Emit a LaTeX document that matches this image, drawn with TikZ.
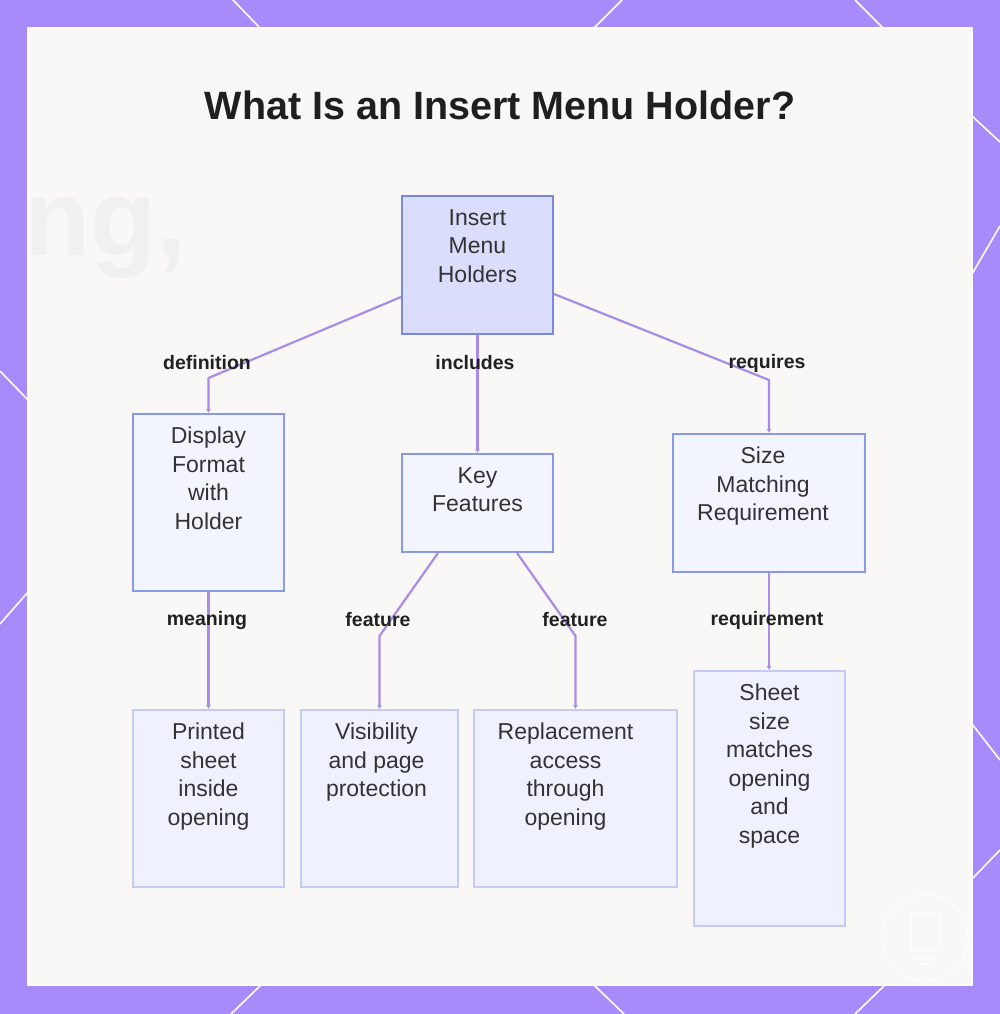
\documentclass[tikz,border=0pt]{standalone}
\usepackage{fontspec}
\setmainfont{Liberation Sans}
\usetikzlibrary{arrows.meta,calc}
\definecolor{frame}{RGB}{167,139,250}
\definecolor{panel}{RGB}{249,248,246}
\definecolor{rootfill}{RGB}{218,221,251}
\definecolor{rootdraw}{RGB}{122,136,218}
\definecolor{midfill}{RGB}{243,245,254}
\definecolor{middraw}{RGB}{136,153,232}
\definecolor{leaffill}{RGB}{239,242,254}
\definecolor{leafdraw}{RGB}{196,204,246}
\definecolor{edgec}{RGB}{168,140,232}
\definecolor{txt}{RGB}{51,51,51}
\definecolor{ghost}{RGB}{240,240,239}
\tikzset{
  boxbase/.style={rectangle, inner sep=0pt, line width=2pt},
  rootbox/.style={boxbase, fill=rootfill, draw=rootdraw},
  midbox/.style={boxbase, fill=midfill, draw=middraw},
  leafbox/.style={boxbase, fill=leaffill, draw=leafdraw},
  boxtext/.style={anchor=north, inner sep=0pt, align=center, text=txt,
    font=\fontsize{23}{28.5}\selectfont},
  edgelbl/.style={inner sep=0pt, text=black!87, font=\bfseries\fontsize{19.5}{23}\selectfont},
  edge/.style={draw=edgec, line width=2.2pt, line join=round,
    -{Latex[length=4pt,width=5pt]}},
  deco/.style={draw=white, line width=1.6pt}
}
\begin{document}
\begin{tikzpicture}[x=1pt,y=-1pt]
\useasboundingbox (0,0) rectangle (1000,1014);
% frame
\fill[frame] (0,0) rectangle (1000,1014);
\draw[deco] (233,0) -- (260,28);
\draw[deco] (622,0) -- (594,28);
\draw[deco] (855,0) -- (883,28);
\draw[deco] (231,1014) -- (261,985);
\draw[deco] (594,985) -- (624,1014);
\draw[deco] (885,985) -- (855,1014);
\draw[deco] (0,371) -- (28,400);
\draw[deco] (0,624) -- (28,592);
\draw[deco] (972,116) -- (1000,142);
\draw[deco] (972,274) -- (1000,226);
\draw[deco] (972,724) -- (1000,760);
\draw[deco] (972,879) -- (1000,850);
% panel
\fill[panel, draw=white, line width=2pt] (28,28) rectangle (972,985);
\begin{scope}
\clip (29,29) rectangle (971,984);
\node[anchor=base west, inner sep=0pt, text=ghost, font=\bfseries\fontsize{108}{108}\selectfont] (ghosttext) at (24,255) {ng,};
\end{scope}
\draw[white, line width=1pt, opacity=0.9] (925,938) circle (43);
\draw[white, line width=1pt, opacity=0.9] (911,912) rectangle (939,950);
\draw[white, line width=1pt, opacity=0.9] (913,959) -- (937,959);
\draw[white, line width=1pt, opacity=0.9] (918,964) -- (932,964);
% title
\node[inner sep=0pt, text=black!88, font=\bfseries\fontsize{39.5}{45}\selectfont] (title) at (500,105) {What Is an Insert Menu Holder?};
% boxes
\node[rootbox, minimum width=151pt, minimum height=138pt, anchor=north] (root) at (477.5,195) {};
\node[midbox, minimum width=151pt, minimum height=177pt, anchor=north] (disp) at (208.5,413) {};
\node[midbox, minimum width=151pt, minimum height=98pt, anchor=north] (key) at (477.5,453) {};
\node[midbox, minimum width=192pt, minimum height=138pt, anchor=north] (size) at (769,433) {};
\node[leafbox, minimum width=151pt, minimum height=177pt, anchor=north] (printed) at (208.5,709) {};
\node[leafbox, minimum width=157pt, minimum height=177pt, anchor=north] (vis) at (379.5,709) {};
\node[leafbox, minimum width=203pt, minimum height=177pt, anchor=north] (repl) at (575.5,709) {};
\node[leafbox, minimum width=151pt, minimum height=255pt, anchor=north] (sheet) at (769.5,670) {};
% box texts
\node[boxtext] (rootT) at ($(root.north)+(0,14)$) {Insert\\Menu\\Holders};
\node[boxtext] (dispT) at ($(disp.north)+(0,14)$) {Display\\Format\\with\\Holder};
\node[boxtext] (keyT) at ($(key.north)+(0,14)$) {Key\\Features};
\node[boxtext] (sizeT) at ($(size.north)+(-6,14)$) {Size\\Matching\\Requirement};
\node[boxtext] (printedT) at ($(printed.north)+(0,14)$) {Printed\\sheet\\inside\\opening};
\node[boxtext] (visT) at ($(vis.north)+(-3,14)$) {Visibility\\and page\\protection};
\node[boxtext] (replT) at ($(repl.north)+(-10,14)$) {Replacement\\access\\through\\opening};
\node[boxtext] (sheetT) at ($(sheet.north)+(0,14)$) {Sheet\\size\\matches\\opening\\and\\space};
% edges
\draw[edge] ([yshift=-32pt]root.west) -- (208.5,378) -- (disp.north);
\draw[edge] (root.south) -- (key.north);
\draw[edge] ([yshift=-29pt]root.east) -- (769,380) -- (size.north);
\draw[edge] (disp.south) -- (printed.north);
\draw[edge] ([xshift=-39.5pt]key.south) -- (379.5,636) -- (vis.north);
\draw[edge] ([xshift=39.5pt]key.south) -- (575.5,636) -- (repl.north);
\draw[edge] (size.south) -- ([xshift=-0.5pt]sheet.north);
% edge labels
\node[edgelbl] (l1) at (207,363) {definition};
\node[edgelbl] (l2) at (475,363) {includes};
\node[edgelbl] (l3) at (767,363) {requires};
\node[edgelbl] (l4) at (207,620) {meaning};
\node[edgelbl] (l5) at (378,620) {feature};
\node[edgelbl] (l6) at (575,620) {feature};
\node[edgelbl] (l7) at (767,620) {requirement};
\end{tikzpicture}
\end{document}
